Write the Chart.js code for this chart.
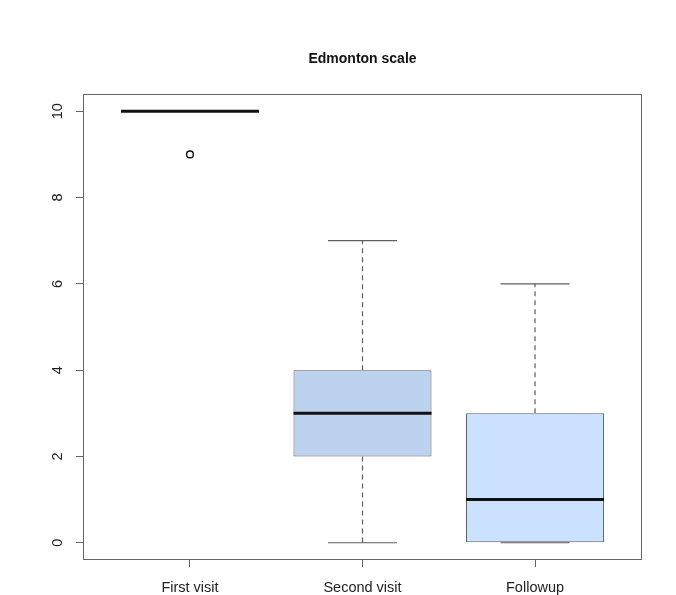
<!DOCTYPE html>
<html>
<head>
<meta charset="utf-8">
<script src="https://cdn.jsdelivr.net/npm/chart.js@4.4.1/dist/chart.umd.min.js"></script>
<style>
  html, body { margin: 0; padding: 0; background: #ffffff; }
  canvas { display: block; }
</style>
</head>
<body>
<canvas id="chart" width="676" height="595"></canvas>
<script>
// Edmonton scale scores per visit, as box-plot summaries
const categories   = ['First visit', 'Second visit', 'Followup'];
const whiskerLow   = [10, 0, 0];
const quartile1    = [10, 2, 0];
const medians      = [10, 3, 1];
const quartile3    = [10, 4, 3];
const whiskerHigh  = [10, 7, 6];
const outliers     = [[9], [], []];
const yTicks       = [0, 2, 4, 6, 8, 10];

const boxFills     = ['rgba(0,0,0,0)', '#bdd2ee', '#cae1ff'];
const boxBorders   = ['rgba(0,0,0,0)', '#5e5e5e', '#5e5e5e'];

const FONT = "'Liberation Sans', Arial, Helvetica, sans-serif";
const HALF_BOX = 0.4;   // half box width, in category units
const HALF_CAP = 0.2;   // half whisker-cap width
const positions = categories.map((_, i) => i + 1);

// Turn a list of [x1, y1, x2, y2] pieces into one broken polyline
function segments(pieces) {
  const pts = [];
  pieces.forEach(([x1, y1, x2, y2]) => {
    pts.push({ x: x1, y: y1 }, { x: x2, y: y2 }, { x: x2, y: null });
  });
  return pts;
}

const whiskerPieces = [];
const capPieces = [];
const medianPieces = [];
positions.forEach((x, i) => {
  whiskerPieces.push([x, quartile3[i], x, whiskerHigh[i]]);
  whiskerPieces.push([x, quartile1[i], x, whiskerLow[i]]);
  capPieces.push([x - HALF_CAP, whiskerHigh[i], x + HALF_CAP, whiskerHigh[i]]);
  capPieces.push([x - HALF_CAP, whiskerLow[i], x + HALF_CAP, whiskerLow[i]]);
  medianPieces.push([x - HALF_BOX, medians[i], x + HALF_BOX, medians[i]]);
});

const outlierPoints = [];
outliers.forEach((list, i) => list.forEach(v => outlierPoints.push({ x: positions[i], y: v })));

// Frame around the plotting region and rotated y tick labels
const framePlugin = {
  id: 'frame',
  afterDraw(chart) {
    const { ctx, chartArea: a, scales } = chart;
    ctx.save();
    ctx.strokeStyle = '#666666';
    ctx.lineWidth = 1;
    ctx.strokeRect(Math.round(a.left) + 0.5, Math.round(a.top) + 0.5,
                   Math.round(a.right - a.left) - 1, Math.round(a.bottom - a.top) - 1);
    ctx.fillStyle = '#222222';
    ctx.font = '14.5px ' + FONT;
    ctx.textAlign = 'center';
    ctx.textBaseline = 'middle';
    yTicks.forEach(v => {
      const y = scales.y.getPixelForValue(v);
      ctx.save();
      ctx.translate(58, y);
      ctx.rotate(-Math.PI / 2);
      ctx.fillText(String(v), 0, 0);
      ctx.restore();
    });
    ctx.restore();
  }
};

new Chart(document.getElementById('chart'), {
  type: 'bar',
  data: {
    datasets: [
      {
        type: 'bar',
        data: positions.map((x, i) => ({ x, y: [quartile1[i], quartile3[i]] })),
        backgroundColor: boxFills,
        borderColor: boxBorders,
        borderWidth: 1,
        borderSkipped: false,
        categoryPercentage: 1,
        barPercentage: 0.8,
        order: 4
      },
      {
        type: 'line',
        data: segments(whiskerPieces),
        borderColor: '#5e5e5e',
        borderWidth: 1.2,
        borderDash: [5, 4],
        pointRadius: 0,
        spanGaps: false,
        order: 3
      },
      {
        type: 'line',
        data: segments(capPieces),
        borderColor: '#5e5e5e',
        borderWidth: 1.2,
        pointRadius: 0,
        spanGaps: false,
        order: 2
      },
      {
        type: 'line',
        data: segments(medianPieces),
        borderColor: '#111111',
        borderWidth: 3,
        borderCapStyle: 'butt',
        pointRadius: 0,
        spanGaps: false,
        order: 1
      },
      {
        type: 'line',
        data: outlierPoints,
        showLine: false,
        pointRadius: 3.4,
        pointBorderWidth: 1.4,
        pointBorderColor: '#111111',
        pointBackgroundColor: 'rgba(0,0,0,0)',
        order: 0
      }
    ]
  },
  options: {
    responsive: false,
    animation: false,
    devicePixelRatio: 1,
    layout: { padding: { left: 0, right: 34, top: 0, bottom: 0 } },
    plugins: {
      legend: { display: false },
      tooltip: { enabled: false },
      title: {
        display: true,
        fullSize: false,
        text: 'Edmonton scale',
        color: '#111111',
        font: { family: FONT, size: 14, weight: 'bold' },
        padding: { top: 51, bottom: 26.2 }
      }
    },
    scales: {
      x: {
        type: 'linear',
        min: 0.38,
        max: 3.62,
        offset: false,
        afterBuildTicks(scale) { scale.ticks = positions.map(v => ({ value: v })); },
        afterFit(scale) { scale.height = 35; },
        grid: { display: true, drawOnChartArea: false, drawTicks: true, tickLength: 7, color: '#666666', offset: false },
        border: { display: false },
        ticks: {
          color: '#222222',
          font: { family: FONT, size: 14.5 },
          padding: 12,
          maxRotation: 0,
          autoSkip: false,
          callback: v => categories[Math.round(v) - 1]
        }
      },
      y: {
        type: 'linear',
        min: -0.4,
        max: 10.4,
        afterBuildTicks(scale) { scale.ticks = yTicks.map(v => ({ value: v })); },
        afterFit(scale) { scale.width = 83; },
        grid: { display: true, drawOnChartArea: false, drawTicks: true, tickLength: 7, color: '#666666' },
        border: { display: false },
        ticks: { display: false }
      }
    }
  },
  plugins: [framePlugin]
});
</script>
</body>
</html>
